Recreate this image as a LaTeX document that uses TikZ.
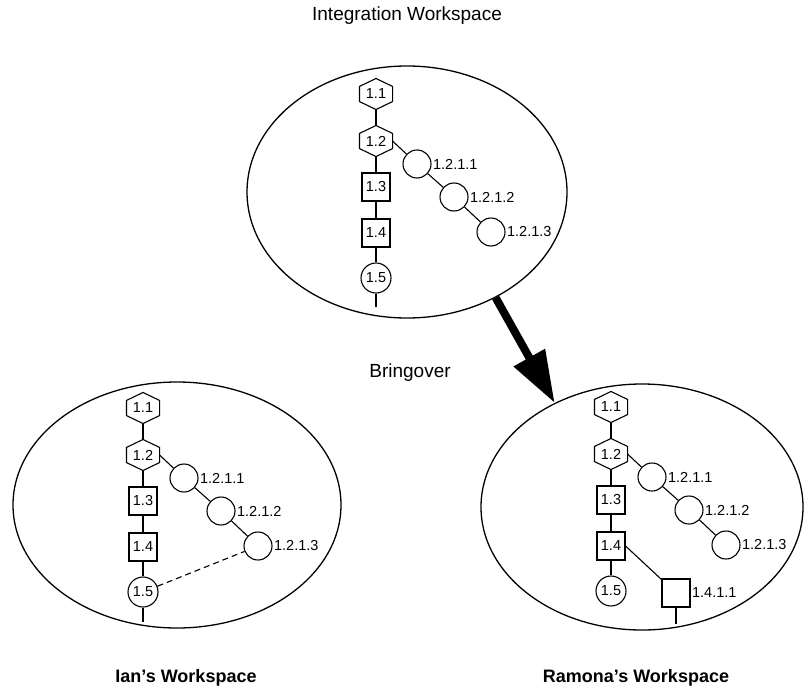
\documentclass[tikz,border=0pt]{standalone}
\usepackage{fontspec}
\setmainfont{Liberation Sans}
\usetikzlibrary{arrows.meta,shapes.geometric}
\makeatletter
\newdimen\hexL \newdimen\hexR \newdimen\hexT \newdimen\hexB
\newdimen\hexM \newdimen\hexTi \newdimen\hexBi
\pgfdeclareshape{vhexagon}{%
  \inheritsavedanchors[from=rectangle]%
  \inheritanchorborder[from=rectangle]%
  \inheritanchor[from=rectangle]{center}%
  \inheritanchor[from=rectangle]{north}%
  \inheritanchor[from=rectangle]{south}%
  \inheritanchor[from=rectangle]{east}%
  \inheritanchor[from=rectangle]{west}%
  \inheritanchor[from=rectangle]{north east}%
  \inheritanchor[from=rectangle]{north west}%
  \inheritanchor[from=rectangle]{south east}%
  \inheritanchor[from=rectangle]{south west}%
  \inheritanchor[from=rectangle]{text}%
  \inheritanchor[from=rectangle]{mid}%
  \inheritanchor[from=rectangle]{base}%
  \backgroundpath{%
    \southwest \hexL=\pgf@x \hexB=\pgf@y
    \northeast \hexR=\pgf@x \hexT=\pgf@y
    \hexM=.5\hexL \advance\hexM by .5\hexR
    \hexTi=\hexT \advance\hexTi by -8pt
    \hexBi=\hexB \advance\hexBi by 8pt
    \pgfpathmoveto{\pgfqpoint{\hexM}{\hexT}}%
    \pgfpathlineto{\pgfqpoint{\hexR}{\hexTi}}%
    \pgfpathlineto{\pgfqpoint{\hexR}{\hexBi}}%
    \pgfpathlineto{\pgfqpoint{\hexM}{\hexB}}%
    \pgfpathlineto{\pgfqpoint{\hexL}{\hexBi}}%
    \pgfpathlineto{\pgfqpoint{\hexL}{\hexTi}}%
    \pgfpathclose
  }%
}
\makeatother
\tikzset{
  lab/.style={font=\fontsize{14.5}{16}\selectfont},
  hexnode/.style={shape=vhexagon, draw, minimum width=32pt, minimum height=30pt, inner sep=0pt, lab},
  sqnode/.style={rectangle, draw, minimum width=28pt, minimum height=28pt, inner sep=0pt, lab},
  revnode/.style={circle, draw, minimum size=30pt, inner sep=0pt, lab},
  brnode/.style={circle, draw, minimum size=28pt, inner sep=0pt,
    label={[lab, inner sep=1pt]right:#1}},
  wsnode/.style={ellipse, draw, line width=1.3pt, inner sep=0pt},
  title/.style={font=\fontsize{19}{22}\selectfont},
  wsname/.style={font=\bfseries\fontsize{18}{21}\selectfont},
  tree/.pic={
    \node[hexnode] (-h1) at (0,0) {1.1};
    \node[hexnode] (-h2) at (0,47) {1.2};
    \node[sqnode] (-s3) at (0,93) {1.3};
    \node[sqnode] (-s4) at (0,139) {1.4};
    \node[revnode] (-c5) at (0,184) {1.5};
    \node[brnode=1.2.1.1] (-b1) at (41,70) {};
    \node[brnode=1.2.1.2] (-b2) at (78,103) {};
    \node[brnode=1.2.1.3] (-b3) at (115,138) {};
    \draw (-h1) -- (-h2) -- (-s3) -- (-s4) -- (-c5);
    \draw (-h2.east) -- (-b1) -- (-b2) -- (-b3);
  }
}
\begin{document}
\begin{tikzpicture}[x=1pt, y=-1pt, line width=1.1pt]
\useasboundingbox (0,0) rectangle (808,696);
% workspaces
\node[wsnode, minimum width=320pt, minimum height=252pt] (topE) at (407,192) {};
\node[wsnode, minimum width=328pt, minimum height=246pt] (blE) at (177,505) {};
\node[wsnode, minimum width=322pt, minimum height=246pt] (brE) at (642,507) {};
% trees
\pic (t) at (376,94) {tree};
\pic (l) at (143,408) {tree};
\pic (r) at (611,407) {tree};
% stems
\coordinate (tstem) at (376,307);
\coordinate (lstem) at (143,622);
\draw (t-c5) -- (tstem);
\draw (l-c5) -- (lstem);
% dashed merge line
\draw[dashed, dash pattern=on 6pt off 4pt] (l-c5) -- (l-b3);
% Ramona's new branch
\node[sqnode, label={[lab, inner sep=1pt]right:1.4.1.1}] (r1411) at (676,593) {};
\coordinate (rstem) at (676,624);
\draw (r-s4.east) -- (r1411);
\draw (r1411) -- (rstem);
% bringover arrow
\draw[line width=8pt, -{Triangle[length=52pt,width=34pt]}] (topE.-50) -- (brE.130);
% texts
\node[title] (ttl) at (407,16) {Integration Workspace};
\node[title] (bring) at (410,373) {Bringover};
\node[wsname] (ian) at (186,678) {Ian’s Workspace};
\node[wsname] (ram) at (636,678) {Ramona’s Workspace};
\end{tikzpicture}
\end{document}
